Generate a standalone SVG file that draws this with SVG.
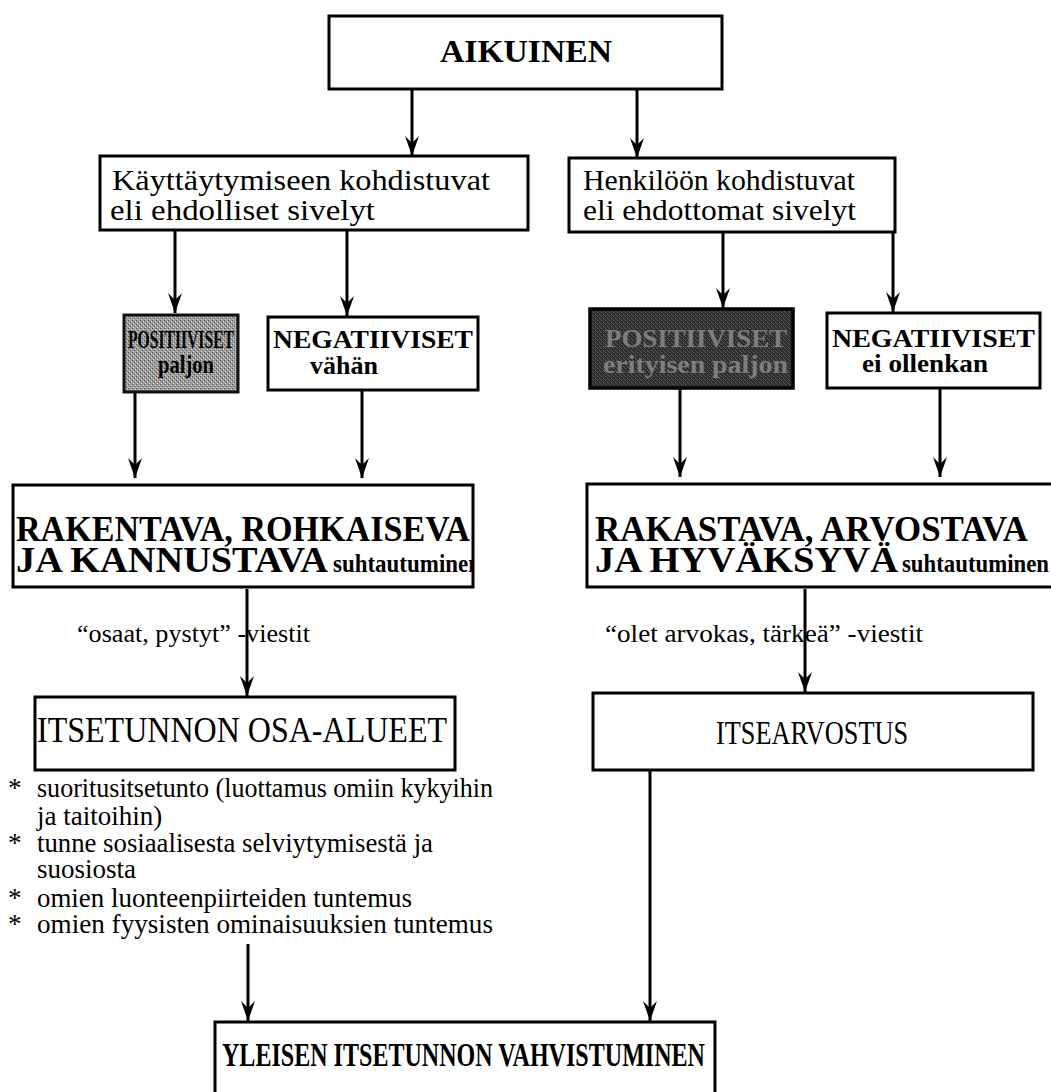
<svg xmlns="http://www.w3.org/2000/svg" width="1051" height="1092" viewBox="0 0 1051 1092">
  <style>
    .box { fill: #fff; stroke: #000; stroke-width: 3; }
    .grey { fill: url(#grainLight); stroke: #111; stroke-width: 3; }
    .dark { fill: url(#grainDark); stroke: #000; stroke-width: 3.5; }
    .line { stroke: #000; stroke-width: 3; fill: none; marker-end: url(#arr); }
    text { font-family: "Liberation Serif", "Times New Roman", serif; fill: #000; }
    .b { font-weight: bold; }
    .dimtext { fill: #7e7e7e; }
  </style>
  <defs>
    <marker id="arr" markerUnits="userSpaceOnUse" viewBox="-21 -8 22 16" refX="0" refY="0" markerWidth="22" markerHeight="16" orient="auto">
      <path d="M0,0 L-20,-7 L-13,0 L-20,7 Z" fill="#000"/>
    </marker>
    <!-- halftone-like fills for the shaded boxes -->
    <pattern id="grainLight" patternUnits="userSpaceOnUse" width="4" height="4">
      <rect width="4" height="4" fill="#9c9c9c"/>
      <rect x="0" y="0" width="1" height="1" fill="#555"/>
      <rect x="2" y="2" width="1" height="1" fill="#555"/>
      <rect x="3" y="1" width="1" height="1" fill="#ddd"/>
      <rect x="1" y="3" width="1" height="1" fill="#ddd"/>
    </pattern>
    <pattern id="grainDark" patternUnits="userSpaceOnUse" width="4" height="4">
      <rect width="4" height="4" fill="#2e2e2e"/>
      <rect x="1" y="0" width="1" height="1" fill="#6a6a6a"/>
      <rect x="3" y="2" width="1" height="1" fill="#6a6a6a"/>
      <rect x="0" y="3" width="1" height="1" fill="#555"/>
    </pattern>
    <clipPath id="clipL"><rect x="13" y="485" width="460" height="102"/></clipPath>
  </defs>

  <!-- connectors -->
  <g id="connectors">
    <line class="line" x1="412" y1="89" x2="412" y2="156"/>
    <line class="line" x1="637" y1="89" x2="637" y2="158"/>
    <line class="line" x1="175" y1="230" x2="175" y2="313"/>
    <line class="line" x1="347" y1="230" x2="347" y2="316"/>
    <line class="line" x1="723" y1="232" x2="723" y2="308"/>
    <line class="line" x1="893" y1="232" x2="893" y2="312"/>
    <line class="line" x1="135" y1="392" x2="135" y2="478"/>
    <line class="line" x1="362" y1="390" x2="362" y2="478"/>
    <line class="line" x1="680" y1="388" x2="680" y2="477"/>
    <line class="line" x1="940" y1="388" x2="940" y2="477"/>
    <line class="line" x1="247" y1="589" x2="247" y2="696"/>
    <line class="line" x1="805" y1="589" x2="805" y2="692"/>
    <line class="line" x1="248" y1="944" x2="248" y2="1021"/>
    <line class="line" x1="650" y1="770" x2="650" y2="1021"/>
  </g>

  <!-- connector labels -->
  <text x="77" y="642" font-size="26" textLength="233" lengthAdjust="spacingAndGlyphs">“osaat, pystyt” -viestit</text>
  <text x="605" y="642" font-size="26" textLength="318" lengthAdjust="spacingAndGlyphs">“olet arvokas, tärkeä” -viestit</text>

  <g id="aikuinen">
    <rect class="box" x="329" y="16" width="393" height="73"/>
    <text class="b" x="440" y="62" font-size="31" textLength="172" lengthAdjust="spacingAndGlyphs">AIKUINEN</text>
  </g>

  <g id="ehdolliset">
    <rect class="box" x="100" y="156" width="428" height="74"/>
    <text x="112" y="190" font-size="29" textLength="378" lengthAdjust="spacingAndGlyphs">Käyttäytymiseen kohdistuvat</text>
    <text x="110" y="220" font-size="29" textLength="265" lengthAdjust="spacingAndGlyphs">eli ehdolliset sivelyt</text>
  </g>

  <g id="ehdottomat">
    <rect class="box" x="569" y="158" width="326" height="74"/>
    <text x="583" y="190" font-size="29" textLength="272" lengthAdjust="spacingAndGlyphs">Henkilöön kohdistuvat</text>
    <text x="583" y="220" font-size="29" textLength="273" lengthAdjust="spacingAndGlyphs">eli ehdottomat sivelyt</text>
  </g>

  <g id="positiiviset-paljon">
    <rect class="grey" x="124" y="315" width="114" height="77"/>
    <text class="b" x="128" y="348" font-size="26" textLength="106" lengthAdjust="spacingAndGlyphs">POSITIIVISET</text>
    <text class="b" x="158" y="373" font-size="26" textLength="56" lengthAdjust="spacingAndGlyphs">paljon</text>
  </g>

  <g id="negatiiviset-vahan">
    <rect class="box" x="268" y="317" width="210" height="73"/>
    <text class="b" x="273" y="348" font-size="26" textLength="200" lengthAdjust="spacingAndGlyphs">NEGATIIVISET</text>
    <text class="b" x="310" y="374" font-size="26" textLength="68" lengthAdjust="spacingAndGlyphs">vähän</text>
  </g>

  <g id="positiiviset-erityisen">
    <rect class="dark" x="590" y="309" width="203" height="79"/>
    <text class="b dimtext" x="605" y="347" font-size="26" textLength="182" lengthAdjust="spacingAndGlyphs">POSITIIVISET</text>
    <text class="b dimtext" x="603" y="373" font-size="26" textLength="185" lengthAdjust="spacingAndGlyphs">erityisen paljon</text>
  </g>

  <g id="negatiiviset-ei">
    <rect class="box" x="827" y="313" width="213" height="75"/>
    <text class="b" x="832" y="347" font-size="26" textLength="203" lengthAdjust="spacingAndGlyphs">NEGATIIVISET</text>
    <text class="b" x="862" y="372" font-size="26" textLength="126" lengthAdjust="spacingAndGlyphs">ei ollenkan</text>
  </g>

  <g id="rakentava">
    <rect class="box" x="13" y="485" width="460" height="102"/>
    <text class="b" x="16" y="541" font-size="35" textLength="454" lengthAdjust="spacingAndGlyphs">RAKENTAVA, ROHKAISEVA</text>
    <g clip-path="url(#clipL)">
      <text class="b" x="16" y="572" font-size="35" textLength="312" lengthAdjust="spacingAndGlyphs">JA KANNUSTAVA</text>
      <text class="b" x="333" y="572" font-size="25" textLength="148" lengthAdjust="spacingAndGlyphs">suhtautuminen</text>
    </g>
  </g>

  <g id="rakastava">
    <rect class="box" x="587" y="484" width="475" height="103"/>
    <text class="b" x="595" y="541" font-size="35" textLength="433" lengthAdjust="spacingAndGlyphs">RAKASTAVA, ARVOSTAVA</text>
    <text class="b" x="595" y="572" font-size="35" textLength="303" lengthAdjust="spacingAndGlyphs">JA HYVÄKSYVÄ</text>
    <text class="b" x="902" y="572" font-size="25" textLength="147" lengthAdjust="spacingAndGlyphs">suhtautuminen</text>
  </g>

  <g id="osa-alueet">
    <rect class="box" x="35" y="697" width="420" height="73"/>
    <text x="37" y="742" font-size="36" textLength="410" lengthAdjust="spacingAndGlyphs">ITSETUNNON OSA-ALUEET</text>
  </g>

  <g id="itsearvostus">
    <rect class="box" x="593" y="693" width="440" height="77"/>
    <text x="716" y="744" font-size="33" textLength="192" lengthAdjust="spacingAndGlyphs">ITSEARVOSTUS</text>
  </g>

  <g id="osa-alueet-lista" font-size="27">
    <text x="8" y="797">*</text>
    <text x="37" y="797" textLength="456" lengthAdjust="spacingAndGlyphs">suoritusitsetunto (luottamus omiin kykyihin</text>
    <text x="37" y="825">ja taitoihin)</text>
    <text x="8" y="852">*</text>
    <text x="37" y="852" textLength="396" lengthAdjust="spacingAndGlyphs">tunne sosiaalisesta selviytymisestä ja</text>
    <text x="37" y="878">suosiosta</text>
    <text x="8" y="907">*</text>
    <text x="37" y="907" textLength="375" lengthAdjust="spacingAndGlyphs">omien luonteenpiirteiden tuntemus</text>
    <text x="8" y="933">*</text>
    <text x="37" y="933" textLength="456" lengthAdjust="spacingAndGlyphs">omien fyysisten ominaisuuksien tuntemus</text>
  </g>

  <g id="yleinen">
    <rect class="box" x="215" y="1022" width="500" height="90"/>
    <text class="b" x="222" y="1066" font-size="33" textLength="483" lengthAdjust="spacingAndGlyphs">YLEISEN ITSETUNNON VAHVISTUMINEN</text>
  </g>
</svg>
